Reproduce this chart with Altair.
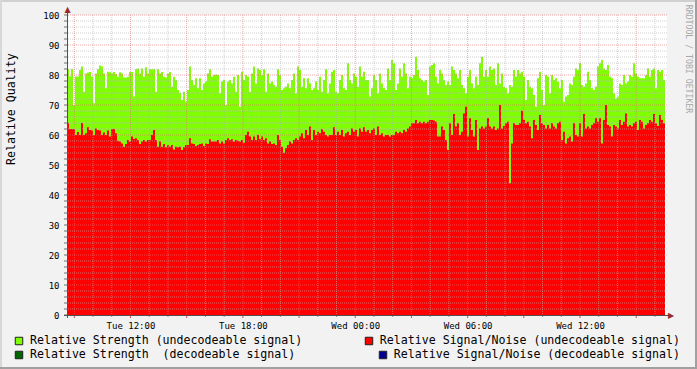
import altair as alt
import pandas as pd

# ---------------- data ----------------
strength = [
    82, 79.5, 82, 70, 79.5, 79.5, 81.7, 82.8, 74.4, 80.5,
    80.8, 81, 79.4, 70.6, 80.5, 81.9, 83.2, 82.8, 80.5, 75.6,
    81.1, 80.9, 80.5, 81, 80.3, 79.4, 80.9, 80.5, 79.2, 79.2,
    79.4, 81, 81, 72.8, 81.9, 82.2, 80.5, 82.2, 79.4, 82.6,
    80.5, 81.9, 81.9, 81.9, 74.4, 81.9, 80.5, 81, 79.4, 79.2,
    80.5, 81, 76.1, 79.4, 78.3, 75, 74.1, 71.7, 74.4, 71.1,
    75, 82.8, 78.3, 76.7, 78.9, 75.6, 78.9, 75, 77.2, 77.8,
    80.5, 81.9, 79.4, 80,
    80.2, 80, 73.9, 77.8, 78.3, 70, 77.8, 78.3, 77.2, 79.4,
    74.4, 80, 69.4, 81.1, 78.3, 80, 79.4, 74.4, 80.5, 82.8,
    77.2, 82.2, 81.7, 80, 81.9, 74.4, 80.5, 77.2, 77.8, 76.7,
    76.1, 81.9, 80, 75, 75.6, 76.1, 77.2, 75.6, 78.3, 80.5,
    73.9, 82.8, 81.7, 76.1, 78.9, 75.6, 78.9, 77.2, 75, 75.6,
    77.8, 75, 79.4, 74.4, 78.3, 81.9, 73.9, 77.2, 81.1, 81.7,
    74.4, 73.9, 78.3, 80, 75.6, 75, 83.9, 78.3, 77.2, 80.5,
    79.4, 76.1, 82.8, 79.4, 81.1, 78.3,
    78.3, 72.8, 75.6, 80, 78.3, 73.9, 80.5, 77.2, 75.6, 75,
    82.2, 78.3, 85, 83.9, 75, 77.2, 82.2, 79.4, 83.9, 80.5,
    75.6, 79.4, 78.9, 80, 86.1, 81.7, 78.9, 78.3, 77.8, 78.3,
    73.3, 82.8, 83.3, 83.9, 79.4, 77.2, 81.7, 80.5, 78.3, 76.7,
    77.8, 76.7, 82.8, 81.7, 80.5, 78.9, 81.7, 76.7, 75.6, 73.9,
    79.4, 81.7, 77.2, 75.6, 79.4, 76.7, 83.9, 86.1, 79.4, 81.7,
    79.4, 82.8, 81.7, 82.2, 76.7, 83.9, 77.2, 80.5, 76.1, 75.6,
    73.9, 76.7, 76.1, 81.7, 79.4,
    81.7, 80.5, 81.1, 79.4, 71.7, 78.3, 76.1, 75.6, 73.3, 69.4,
    78.9, 81.1, 75, 70, 80, 79.4, 73.9, 80, 78.3, 78.9,
    77.8, 75.6, 78.3, 71.1, 72.8, 73.3, 77.2, 76.7, 79.4, 82.2,
    81.7, 83.9, 76.7, 76.1, 77.2, 81.1, 78.3, 75.6, 75, 76.1,
    82.8, 83.9, 85, 82.2, 81.7, 83.3, 79.4, 78.9, 73.9, 72.2,
    72.8, 77.2, 76.7, 80, 77.2, 77.8, 80, 79.4, 83.9, 80.5,
    79.4, 78.9, 78.9, 78.9, 80, 82.2, 79.4, 81.7, 82.2, 75.6,
    81.7, 81.1, 81.7, 78.3,
]

snr = [
    64, 62, 62, 62, 60, 61, 60, 64, 60, 60.6,
    62.6, 61.7, 61.5, 60, 62.2, 61.7, 61.5, 60, 60.8, 60,
    61.5, 59.5, 62, 62, 60.6, 58.1, 57.8, 57.2, 56.1, 57,
    58.3, 57.8, 59.5, 58.7, 58.9, 58.3, 57, 57.8, 58.3, 57.8,
    58.3, 58.3, 60, 61.7, 58.3, 56.1, 57.8, 56.1, 57, 55.9,
    56.7, 56.1, 56.7, 55.2, 56.1, 55.9, 56.1, 55, 55.9, 56.7,
    56.7, 58.9, 57.2, 57, 56.3, 56.7, 57, 57.2, 56.3, 57.2,
    57, 58.6, 57.8, 57.8,
    57.8, 58.3, 57.2, 57.8, 57.2, 58.3, 58.9, 58.3, 58.6, 57.8,
    58.3, 58.1, 57.8, 58.3, 57.4, 60, 61.1, 59.5, 58.3, 59.5,
    58.3, 60, 58.6, 59.5, 58.3, 58.9, 57.2, 57.8, 57, 57.2,
    56.7, 60, 58.3, 56.1, 54.1, 55.6, 56.7, 57.8, 57.2, 58.3,
    58.9, 58.3, 59.5, 60.6, 58.9, 61.7, 60, 62.8, 58.3, 61.7,
    60, 61.1, 60.6, 61.9, 61.1, 60, 59.5, 60, 60, 62.6,
    60, 61.1, 60, 61.7, 59.5, 60.6, 61.1, 60, 62.2, 61.1,
    61.7, 59.5, 62.2, 61.1, 62.6, 61.1,
    61.7, 60.6, 61.7, 62.2, 60, 62.8, 60, 60.6, 59.5, 60,
    60, 59.5, 60, 60, 61.1, 60.6, 61.1, 60.6, 61.7, 61.1,
    62.2, 62.8, 63.9, 63.9, 65, 63.9, 64.4, 63.9, 64.4, 63.9,
    64.4, 65, 65, 64.8, 64.4, 59.5, 59.5, 62.8, 61.7, 58.3,
    55, 63.9, 60, 67, 62.8, 63.9, 60, 61.1, 67.2, 69.4,
    59.5, 65.6, 61.7, 59.5, 65, 55, 62.2, 62.8, 62.2, 62.8,
    65.6, 62.8, 62.2, 62.8, 61.7, 62.2, 70, 62.2, 63, 63.9,
    64.4, 43.9, 57.2, 63.9, 63.3,
    63.3, 63.9, 68.1, 65, 63.9, 64.4, 62.8, 58.9, 65, 63.3,
    61.7, 66.7, 63.9, 63.3, 62.2, 63.3, 62.2, 63.9, 62.8, 62.2,
    63.9, 64.4, 58.3, 61.1, 57.2, 58.9, 59.5, 57.8, 63.9, 60,
    59.5, 63.9, 59.5, 67, 62.2, 62.8, 62.2, 63.3, 63.9, 65.6,
    64.4, 65.6, 57.2, 65, 70, 63.3, 62.8, 59.5, 63.3, 62.8,
    62.2, 65, 63.3, 64.4, 67.2, 62.8, 63.3, 62.8, 63.9, 64.4,
    61.7, 65, 64.4, 62.2, 63.3, 63.9, 65, 64.4, 67, 63.9,
    63, 66.7, 65, 63.9,
]

x_tick_values = [12, 18, 24, 30, 36]          # hours since Tue 00:00
x_tick_labels = ["Tue 12:00", "Tue 18:00", "Wed 00:00", "Wed 06:00", "Wed 12:00"]
y_tick_values = [0, 10, 20, 30, 40, 50, 60, 70, 80, 90, 100]
legend_labels = [
    "Relative Strength (undecodeable signal)",
    "Relative Signal/Noise (undecodeable signal)",
    "Relative Strength\u00a0 (decodeable signal)",
    "Relative Signal/Noise (decodeable signal)",
]
legend_colors = ["#80FF00", "#FF0000", "#006400", "#000090"]

# ---------------- time axis ----------------
T0 = 8.61          # start (hours since Tue 00:00)
DT = 0.10678       # one sample step in hours
T_END = 40.644     # right edge of plot

n = len(strength)
df = pd.DataFrame({
    "t": [T0 + i * DT for i in range(n + 1)],
    "strength": strength + [strength[-1]],
    "snr": snr + [snr[-1]],
})

xs = alt.Scale(domain=[T0, T_END], nice=False, zero=False)
ys = alt.Scale(domain=[0, 100], nice=False)
MONO = "DejaVu Sans Mono"

label_expr = ""
for v, lab in zip(x_tick_values, x_tick_labels):
    label_expr += f"datum.value == {v} ? '{lab}' : "
label_expr += "''"

x_axis = alt.Axis(values=x_tick_values, labelExpr=label_expr, title=None, labelPadding=6,
                  ticks=False, domain=False, grid=False, labelOverlap=False, labelFlush=False)
y_axis = alt.Axis(values=y_tick_values, title=None, labelPadding=8,
                  ticks=False, domain=False, grid=False, labelOverlap=False, labelFlush=False)


def X(f):
    return alt.X(f, scale=xs, axis=x_axis)


def Y(f):
    return alt.Y(f, scale=ys, axis=y_axis)


green = alt.Chart(df).mark_area(interpolate="step-after", color="#80FF00").encode(
    x=X("t:Q"), y=Y("strength:Q"))
red = alt.Chart(df).mark_area(interpolate="step-after", color="#FF0000").encode(
    x=X("t:Q"), y=Y("snr:Q"))

# grid
minor_h = pd.DataFrame({"h": [h for h in range(9, 41) if h % 3]})
major_h = pd.DataFrame({"h": list(range(9, 41, 3))})
minor_v = pd.DataFrame({"v": [v for v in range(2, 100, 2) if v % 10]})
major_v = pd.DataFrame({"v": list(range(10, 101, 10))})
all_v = pd.DataFrame({"v": list(range(0, 101, 2))})

grid_minor_x = alt.Chart(minor_h).mark_rule(color="#B0B0B0", opacity=0.6, strokeDash=[1, 1]).encode(x=X("h:Q"))
grid_minor_y = alt.Chart(minor_v).mark_rule(color="#B0B0B0", opacity=0.6, strokeDash=[1, 1]).encode(y=Y("v:Q"))
grid_major_x = alt.Chart(major_h).mark_rule(color="#E07070", opacity=0.6, strokeDash=[1, 1]).encode(x=X("h:Q"))
grid_major_y = alt.Chart(major_v).mark_rule(color="#E07070", opacity=0.6, strokeDash=[1, 1]).encode(y=Y("v:Q"))

ytick = alt.Chart(all_v).mark_rule(color="#707070").encode(
    y=Y("v:Q"), x=alt.value(-3), x2=alt.value(0))
xtick_minor = alt.Chart(minor_h).mark_rule(color="#909090").encode(
    x=X("h:Q"), y=alt.value(300), y2=alt.value(302))
xtick_major = alt.Chart(major_h).mark_rule(color="#D05050").encode(
    x=X("h:Q"), y=alt.value(300), y2=alt.value(303))

one = pd.DataFrame({"k": [0]})
axis_color = "#505050"
yaxis_line = alt.Chart(one).mark_rule(color=axis_color, strokeWidth=1).encode(
    x=alt.value(0.5), x2=alt.value(0.5), y=alt.value(303), y2=alt.value(-3))
xaxis_line = alt.Chart(one).mark_rule(color=axis_color, strokeWidth=1).encode(
    y=alt.value(300.5), y2=alt.value(300.5), x=alt.value(-3), x2=alt.value(602))
arrow_up = alt.Chart(one).mark_text(text="\u25b2", font="DejaVu Sans", fontSize=8, color="#9A2A2A",
                                    align="center", baseline="middle").encode(
    x=alt.value(0.5), y=alt.value(-5))
arrow_right = alt.Chart(one).mark_text(text="\u25b6", font="DejaVu Sans", fontSize=8, color="#9A2A2A",
                                       align="center", baseline="middle").encode(
    x=alt.value(604), y=alt.value(300.5))

# frame
frame = []
for (xv, x2v, yv, y2v, col) in [(-67, 630, -14, -14, "#D0D0D0"), (-66, -66, -15, 354, "#D8D8D8"),
                                (-67, 630, 353, 353, "#A0A0A0"), (629, 629, -15, 354, "#A0A0A0")]:
    frame.append(alt.Chart(one).mark_rule(color=col, strokeWidth=2).encode(
        x=alt.value(xv), x2=alt.value(x2v), y=alt.value(yv), y2=alt.value(y2v)))


def text(label, x, y, size=11.6, align="left", angle=0, color="#000000"):
    mk = dict(font=MONO, fontSize=size, align=align, baseline="middle", color=color)
    if angle:
        mk["angle"] = angle
    return alt.Chart(one).mark_text(**mk).encode(x=alt.value(x), y=alt.value(y), text=alt.value(label))


ytitle = text("Relative Quality", -55, 150, angle=270)
credit = text("RRDTOOL / TOBI OETIKER", 621, 44, size=8.2, align="center", angle=90, color="#A8A8A8")


def box(color, x, y):
    return alt.Chart(one).mark_point(shape="square", filled=True, color=color, size=56, opacity=1,
                                     stroke="#202020", strokeWidth=1).encode(
        x=alt.value(x), y=alt.value(y))


legend = [
    box(legend_colors[0], -48, 326), text(legend_labels[0], -37, 326),
    box(legend_colors[1], 302, 326), text(legend_labels[1], 613, 326, align="right"),
    box(legend_colors[2], -48, 340), text(legend_labels[2], -37, 340),
    box(legend_colors[3], 316, 340), text(legend_labels[3], 613, 340, align="right"),
]

chart = alt.layer(
    green, red, grid_minor_x, grid_minor_y, grid_major_x, grid_major_y,
    ytick, xtick_minor, xtick_major, yaxis_line, xaxis_line, arrow_up, arrow_right,
    ytitle, credit, *legend, *frame,
).properties(
    width=600, height=300,
    autosize="none",
    padding={"left": 67, "top": 15, "right": 30, "bottom": 54},
    background="#F2F2F2",
).configure_view(
    fill="white", strokeWidth=0
).configure_axis(
    labelFont=MONO, labelFontSize=9, labelColor="#000000",
)

chart.save("out.html", embed_options={"renderer": "svg", "actions": False})
